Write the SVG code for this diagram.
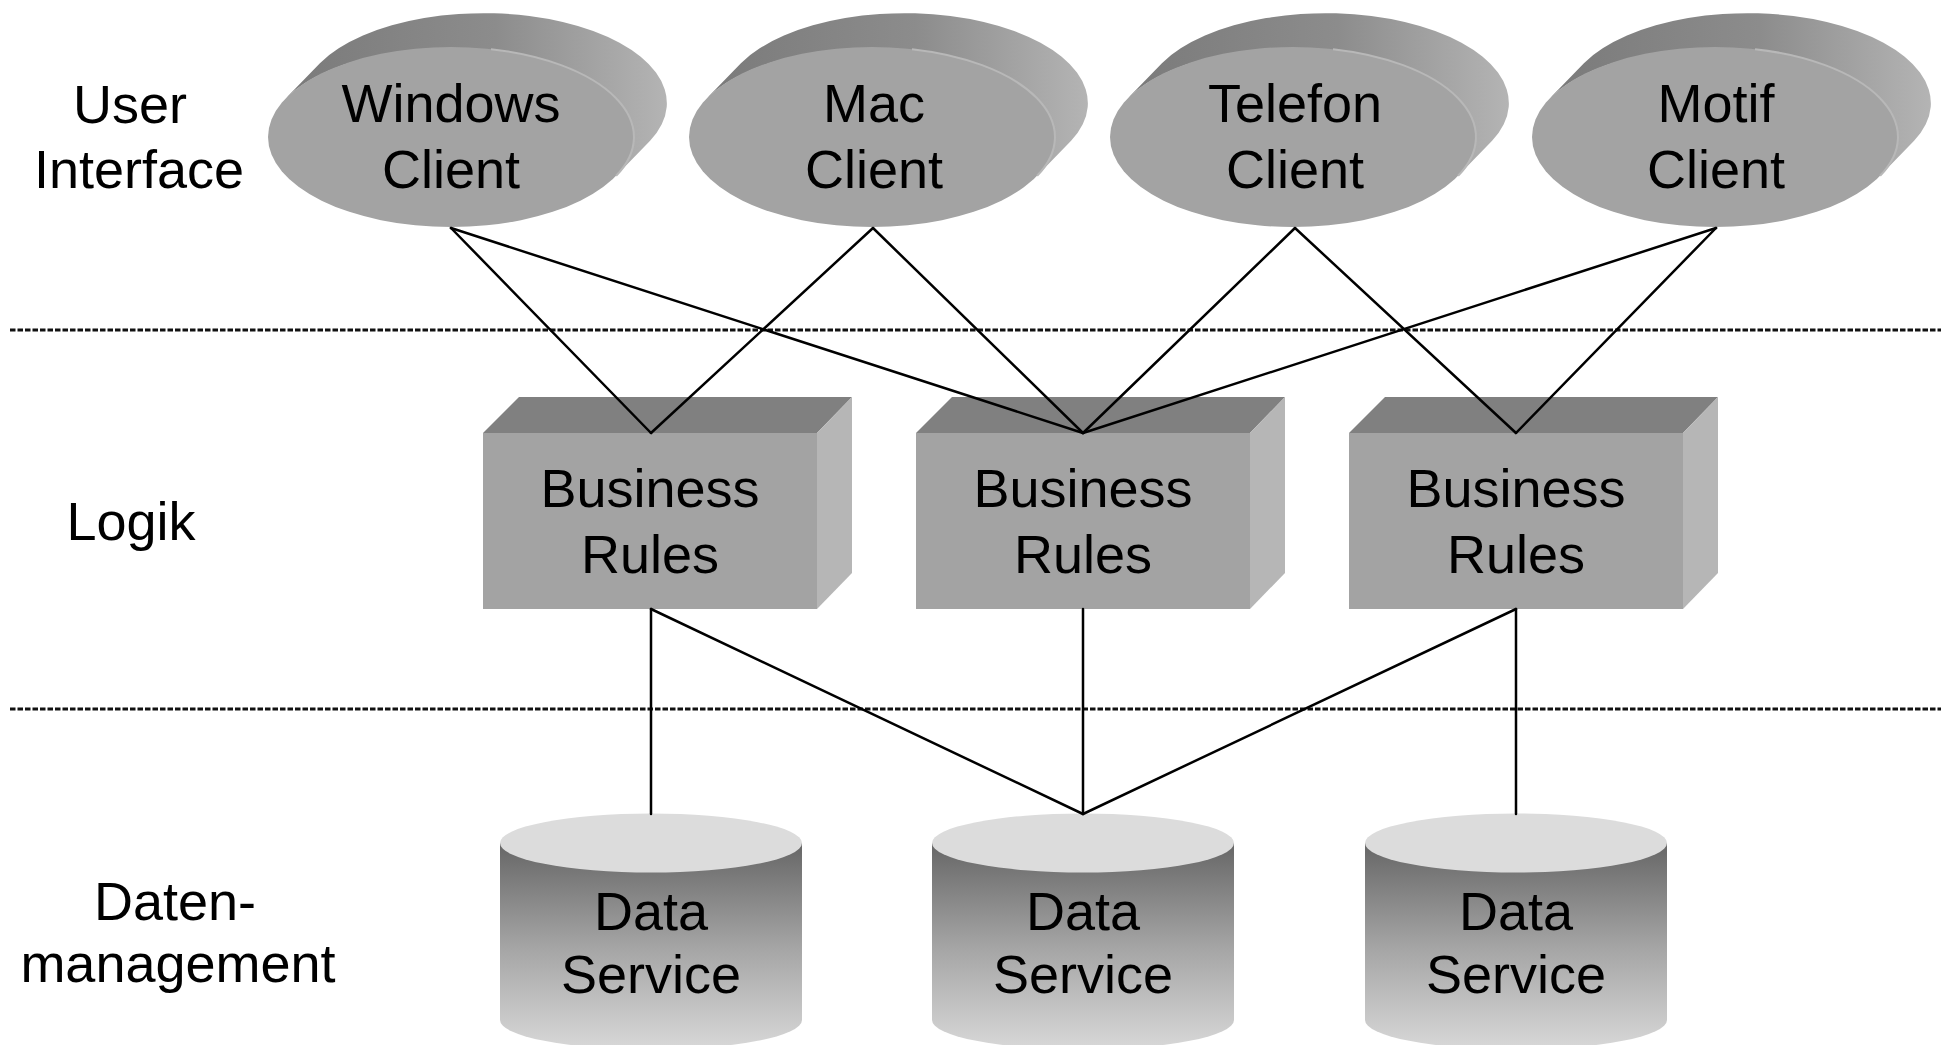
<svg xmlns="http://www.w3.org/2000/svg" width="1941" height="1045" viewBox="0 0 1941 1045">
  <defs>
    <style>
      text { font-family: "Liberation Sans", Arial, sans-serif; font-size: 54px; fill: #000; text-anchor: middle; }
      .lane { stroke: #111; stroke-width: 3; stroke-dasharray: 5.5 2; fill: none; }
      .link { stroke: #000; stroke-width: 2.5; fill: none; stroke-linecap: round; }
      .disc-side { fill: url(#discSide); }
      .disc-face { fill: #a3a3a3; }
      .disc-rim { fill: none; stroke: #b8b8b8; stroke-width: 2; }
      .box-front { fill: #a3a3a3; }
      .box-top { fill: #808080; }
      .box-right { fill: #b6b6b6; }
      .cyl-body { fill: url(#cylBody); }
      .cyl-top { fill: #dcdcdc; }
    </style>
    <linearGradient id="discSide" x1="0" y1="0" x2="1" y2="0">
      <stop offset="0" stop-color="#7a7a7a"/>
      <stop offset="0.55" stop-color="#8c8c8c"/>
      <stop offset="1" stop-color="#b4b4b4"/>
    </linearGradient>
    <linearGradient id="cylBody" x1="0" y1="0" x2="0" y2="1">
      <stop offset="0" stop-color="#666666"/>
      <stop offset="0.5" stop-color="#a4a4a4"/>
      <stop offset="1" stop-color="#d8d8d8"/>
    </linearGradient>
    <!-- extruded disc used for the client nodes -->
    <g id="disc">
      <path class="disc-side" d="M 165.1 38.8 L 199.1 3.8 A 183 90 0 0 0 -131.1 -73.8 L -165.1 -38.8 A 183 90 0 0 1 165.1 38.8 Z"/>
      <ellipse class="disc-face" cx="0" cy="0" rx="183" ry="90"/>
      <path class="disc-rim" d="M 40 -87.8 A 183 90 0 0 1 165.1 38.8"/>
    </g>
    <!-- box in oblique projection used for the logic nodes -->
    <g id="block">
      <polygon class="box-top" points="-167,0 -131,-36 202,-36 167,0"/>
      <polygon class="box-right" points="167,0 202,-36 202,140 167,176"/>
      <rect class="box-front" x="-167" y="0" width="334" height="176"/>
    </g>
    <!-- cylinder used for the data nodes -->
    <g id="drum">
      <path class="cyl-body" d="M -151 0 L -151 177 A 151 29.5 0 0 0 151 177 L 151 0 Z"/>
      <ellipse class="cyl-top" cx="0" cy="0" rx="151" ry="29.5"/>
    </g>
  </defs>

  <rect x="0" y="0" width="1941" height="1045" fill="#ffffff"/>

  <!-- layer separators -->
  <g id="separators">
    <line class="lane" x1="10" y1="330" x2="1941" y2="330"/>
    <line class="lane" x1="10" y1="709" x2="1941" y2="709"/>
  </g>

  <!-- layer captions -->
  <g id="captions">
    <text x="130" y="123">User</text>
    <text x="139" y="188">Interface</text>
    <text x="131" y="540">Logik</text>
    <text x="175" y="920">Daten-</text>
    <text x="178" y="982">management</text>
  </g>

  <!-- user interface layer -->
  <g id="client-windows">
    <use href="#disc" x="451" y="137"/>
    <text x="451" y="122">Windows</text>
    <text x="451" y="188">Client</text>
  </g>
  <g id="client-mac">
    <use href="#disc" x="872" y="137"/>
    <text x="874" y="122">Mac</text>
    <text x="874" y="188">Client</text>
  </g>
  <g id="client-telefon">
    <use href="#disc" x="1293" y="137"/>
    <text x="1295" y="122">Telefon</text>
    <text x="1295" y="188">Client</text>
  </g>
  <g id="client-motif">
    <use href="#disc" x="1715" y="137"/>
    <text x="1716" y="122">Motif</text>
    <text x="1716" y="188">Client</text>
  </g>

  <!-- logic layer -->
  <g id="rules-1">
    <use href="#block" x="650" y="433"/>
    <text x="650" y="507">Business</text>
    <text x="650" y="573">Rules</text>
  </g>
  <g id="rules-2">
    <use href="#block" x="1083" y="433"/>
    <text x="1083" y="507">Business</text>
    <text x="1083" y="573">Rules</text>
  </g>
  <g id="rules-3">
    <use href="#block" x="1516" y="433"/>
    <text x="1516" y="507">Business</text>
    <text x="1516" y="573">Rules</text>
  </g>

  <!-- data layer -->
  <g id="data-1">
    <use href="#drum" x="651" y="843"/>
    <text x="651" y="930">Data</text>
    <text x="651" y="993">Service</text>
  </g>
  <g id="data-2">
    <use href="#drum" x="1083" y="843"/>
    <text x="1083" y="930">Data</text>
    <text x="1083" y="993">Service</text>
  </g>
  <g id="data-3">
    <use href="#drum" x="1516" y="843"/>
    <text x="1516" y="930">Data</text>
    <text x="1516" y="993">Service</text>
  </g>

  <!-- connectors -->
  <g id="connectors">
    <line class="link" x1="451" y1="228" x2="651" y2="433"/>
    <line class="link" x1="451" y1="228" x2="1083" y2="433"/>
    <line class="link" x1="873" y1="228" x2="651" y2="433"/>
    <line class="link" x1="873" y1="228" x2="1083" y2="433"/>
    <line class="link" x1="1295" y1="228" x2="1083" y2="433"/>
    <line class="link" x1="1295" y1="228" x2="1516" y2="433"/>
    <line class="link" x1="1716" y1="228" x2="1083" y2="433"/>
    <line class="link" x1="1716" y1="228" x2="1516" y2="433"/>
    <line class="link" x1="651" y1="609" x2="651" y2="814"/>
    <line class="link" x1="651" y1="609" x2="1083" y2="814"/>
    <line class="link" x1="1083" y1="609" x2="1083" y2="814"/>
    <line class="link" x1="1516" y1="609" x2="1083" y2="814"/>
    <line class="link" x1="1516" y1="609" x2="1516" y2="814"/>
  </g>
</svg>
